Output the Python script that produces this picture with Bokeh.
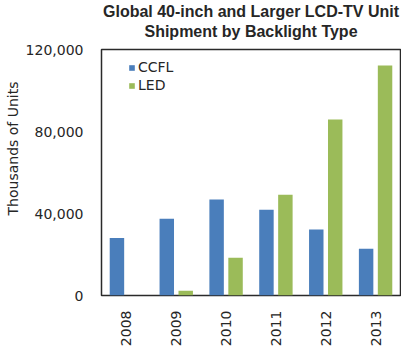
import math
from bokeh.plotting import figure
from bokeh.models import (ColumnDataSource, FactorRange, Range1d, FixedTicker,
                          NumeralTickFormatter, Title, Legend, LegendItem)
from bokeh.transform import dodge
from bokeh.embed import file_html
from bokeh.resources import INLINE

years = ["2008", "2009", "2010", "2011", "2012", "2013"]
ccfl = [28000, 37400, 46800, 41800, 32200, 22800]
led = [0, 2300, 18400, 49100, 85900, 112200]
y_ticks = [0, 40000, 80000, 120000]

title_line1 = "Global 40-inch and Larger LCD-TV Unit"
title_line2 = "Shipment by Backlight Type"
y_label = "Thousands of Units"

src = ColumnDataSource(dict(years=years, ccfl=ccfl, led=led))

TXT = "#262626"
p = figure(x_range=FactorRange(*years), y_range=Range1d(0, 120000),
           frame_width=299, frame_height=246, output_backend="svg",
           toolbar_location=None,
           min_border_left=10, min_border_right=1, min_border_top=0,
           min_border_bottom=0, title=None)

r1 = p.vbar(x=dodge("years", -0.19, range=p.x_range), top="ccfl", width=0.29,
            source=src, color="#4A7EBB", line_color=None)
r2 = p.vbar(x=dodge("years", 0.19, range=p.x_range), top="led", width=0.29,
            source=src, color="#9BBB59", line_color=None)

# spacer between title and plot frame
p.add_layout(Title(text=" ", text_font_size="1px", standoff=6), "above")
for txt in (title_line2, title_line1):
    t = Title(text=txt, align="center", text_font="Liberation Sans",
              text_font_size="16px", text_font_style="bold", text_color=TXT,
              text_line_height=1.0, standoff=1)
    p.add_layout(t, "above")

yt = Title(text=y_label, align="right", offset=32, text_font="DejaVu Sans",
           text_font_size="14px", text_font_style="normal", text_color=TXT,
           standoff=4)
p.add_layout(yt, "left")

p.xgrid.visible = False
p.ygrid.visible = False
p.outline_line_color = "#2a2a2a"
p.outline_line_width = 1.5
p.outline_line_alpha = 1.0

ya = p.yaxis[0]
ya.ticker = FixedTicker(ticks=y_ticks)
ya.formatter = NumeralTickFormatter(format="0,0")
ya.axis_line_color = None
ya.major_tick_line_color = None
ya.minor_tick_line_color = None
ya.major_tick_out = 0
ya.minor_tick_out = 0
ya.major_label_standoff = 18
ya.major_label_text_font = "DejaVu Sans"
ya.major_label_text_font_size = "14px"
ya.major_label_text_color = TXT

xa = p.xaxis[0]
xa.axis_line_color = None
xa.major_tick_line_color = None
xa.minor_tick_line_color = None
xa.major_tick_out = 0
xa.minor_tick_out = 0
xa.major_label_orientation = math.pi / 2
xa.major_label_standoff = 15
xa.major_label_text_font = "DejaVu Sans"
xa.major_label_text_font_size = "14px"
xa.major_label_text_color = TXT

legend = Legend(items=[LegendItem(label="CCFL", renderers=[r1]),
                       LegendItem(label="LED", renderers=[r2])],
                location=(27, 201), padding=0, margin=0, spacing=0,
                label_height=18, glyph_height=7, glyph_width=7,
                label_standoff=3, border_line_color=None,
                background_fill_alpha=0,
                label_text_font="DejaVu Sans", label_text_font_size="14px",
                label_text_color=TXT)
p.add_layout(legend, "center")

open("out.html", "w").write(file_html(p, INLINE))
